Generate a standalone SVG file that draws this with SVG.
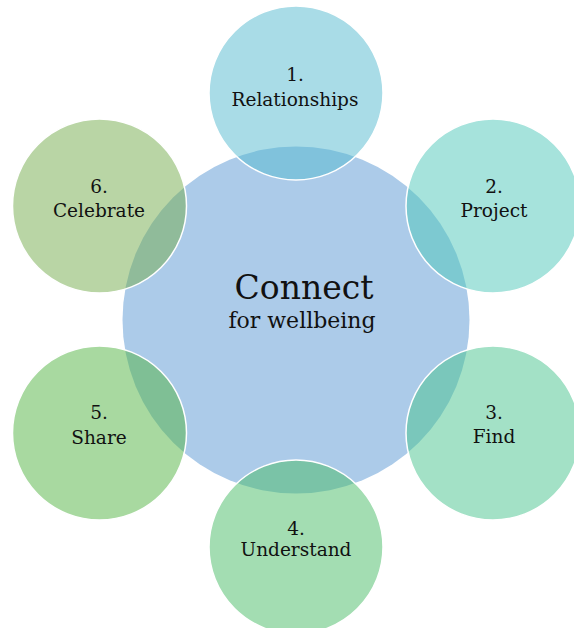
<svg xmlns="http://www.w3.org/2000/svg" width="574" height="628" viewBox="0 0 574 628">
<style>
.outer{fill-opacity:0.5;stroke:#ffffff;stroke-width:1.5}
.lbl{font-family:"DejaVu Serif","Liberation Serif",serif;font-size:18.5px;fill:#111111;text-anchor:middle}
.big{font-family:"DejaVu Serif","Liberation Serif",serif;fill:#111111;text-anchor:middle}
</style>
<rect width="574" height="628" fill="#ffffff"/>
<g id="center">
<circle cx="296" cy="320" r="173.5" fill="#ACCBE9"/>
<text class="big" x="304" y="299" font-size="33">Connect</text>
<text class="big" x="302" y="328" font-size="22">for wellbeing</text>
</g>
<g id="connectors"/>
<g id="n1">
<circle class="outer" cx="296" cy="93" r="87" fill="#53B9CF"/>
<text class="lbl" x="295" y="81">1.</text>
<text class="lbl" x="295" y="106">Relationships</text>
</g>
<g id="n2">
<circle class="outer" cx="493" cy="206" r="87" fill="#4DC7B9"/>
<text class="lbl" x="494" y="193">2.</text>
<text class="lbl" x="494" y="217">Project</text>
</g>
<g id="n3">
<circle class="outer" cx="493" cy="433" r="87" fill="#47C38D"/>
<text class="lbl" x="494" y="419">3.</text>
<text class="lbl" x="494" y="443">Find</text>
</g>
<g id="n4">
<circle class="outer" cx="296" cy="547" r="87" fill="#47BB65"/>
<text class="lbl" x="296" y="535">4.</text>
<text class="lbl" x="296" y="556">Understand</text>
</g>
<g id="n5">
<circle class="outer" cx="99.5" cy="433" r="87" fill="#51B341"/>
<text class="lbl" x="99" y="419">5.</text>
<text class="lbl" x="99" y="444">Share</text>
</g>
<g id="n6">
<circle class="outer" cx="99.5" cy="206" r="87" fill="#73AB4B"/>
<text class="lbl" x="99" y="193">6.</text>
<text class="lbl" x="99" y="217">Celebrate</text>
</g>
</svg>
